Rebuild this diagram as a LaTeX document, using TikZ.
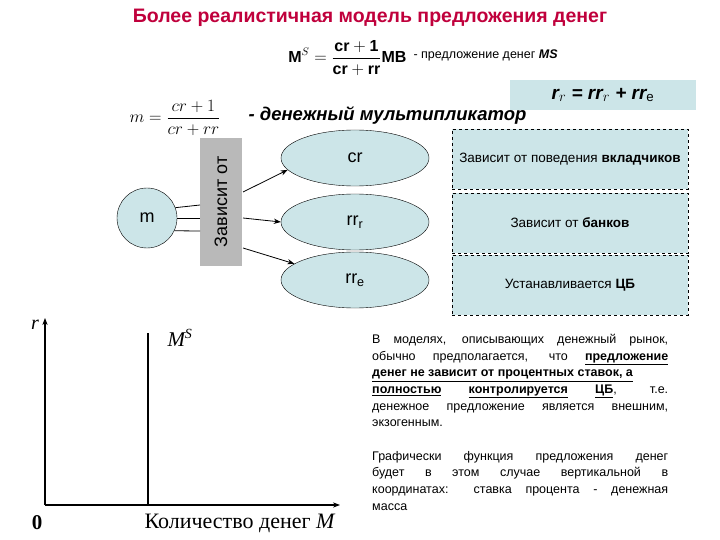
\documentclass[tikz,border=0pt]{standalone}
\usepackage{fontspec}
\setmainfont{Liberation Sans}
\newfontfamily\serifru{Liberation Serif}
\usetikzlibrary{shapes.geometric,arrows.meta}
\definecolor{lblue}{HTML}{CCE5E8}
\definecolor{titlec}{HTML}{C0003C}
\tikzset{
 ell/.style={ellipse,draw,fill=lblue,minimum width=148pt,minimum height=56pt,font=\fontsize{18}{20}\selectfont},
 dbox/.style={draw,dashed,thick,fill=lblue,minimum width=236pt,minimum height=60pt,font=\fontsize{13.5}{15}\selectfont},
 arr/.style={-{Stealth[length=7pt]},thick},
 ln/.style={thick},
 para/.style={anchor=north west,align=left,inner sep=0pt,font=\fontsize{12.5}{16.7}\selectfont}
}
\newcommand{\jl}[1]{\makebox[296pt][s]{#1}}
\begin{document}
\begin{tikzpicture}[x=1pt,y=-1pt]
\useasboundingbox (0,0) rectangle (720,540);
\fill[white] (0,0) rectangle (720,540);
\node (title) at (370,18) {\fontsize{19.5}{22}\selectfont\bfseries\color{titlec}Более реалистичная модель предложения денег};
\node[anchor=east] (ms) at (410,58) {\fontsize{16}{18}\selectfont$\displaystyle \mathbf{M}^{S}=\frac{\mathbf{cr+1}}{\mathbf{cr+rr}}\mathbf{MB}$};
\node[anchor=west] (mst) at (410,55) {\fontsize{12.5}{14}\selectfont - предложение денег \textbf{\itshape MS}};
\node[fill=lblue,minimum width=186pt,minimum height=30pt] (rr) at (603,95) {\fontsize{19}{21}\selectfont\bfseries\itshape r$_r$ = rr$_r$ + rr$_\mathrm{e}$};
\node (mf) at (175,118) {\fontsize{16}{18}\selectfont$\displaystyle m=\frac{cr+1}{cr+rr}$};
\node[anchor=west] (mult) at (245,115) {\fontsize{18.5}{20}\selectfont\bfseries\itshape - денежный мультипликатор};
\node[circle,draw,fill=lblue,minimum size=60pt,font=\fontsize{18}{20}\selectfont] (m) at (147,218) {m};
\node[fill=gray!55,minimum width=128pt,minimum height=42pt,rotate=90,font=\fontsize{18}{20}\selectfont] (bar) at (221,202) {Зависит от};
\node[ell] (cr) at (355,158) {cr};
\node[ell] (rrr) at (355,222) {rr$_\mathrm{r}$};
\node[ell] (rre) at (355,280) {rr$_\mathrm{e}$};
\node[dbox] (b1) at (570,159) {Зависит от поведения \textbf{вкладчиков}};
\node[dbox] (b2) at (570,223) {Зависит от \textbf{банков}};
\node[dbox] (b3) at (570,285) {Устанавливается \textbf{ЦБ}};
\coordinate (p1) at (200,205); \coordinate (p2) at (200,218); \coordinate (p3) at (200,231);
\coordinate (q1) at (243,192); \coordinate (q2) at (243,218); \coordinate (q3) at (243,248);
\draw[ln] (m.20) -- (p1);
\draw[ln] (m.east) -- (p2);
\draw[ln] (m.-25) -- (p3);
\draw[arr] (q1) -- (cr.190);
\draw[arr] (q2) -- (rrr.west);
\draw[arr] (q3) -- (rre.165);
% graph
\coordinate (o) at (45,505);
\coordinate (ytop) at (45,318);
\coordinate (xend) at (340,505);
\coordinate (mst0) at (148,505);
\coordinate (mst1) at (148,333);
\draw[arr,line width=1.2pt] (o) -- (ytop);
\draw[arr,line width=1.2pt] (o) -- (xend);
\draw[line width=1.2pt] (mst0) -- (mst1);
\node (rl) at (35,325) {\serifru\fontsize{20}{22}\selectfont\itshape r};
\node (msl) at (180,338) {\serifru\fontsize{21}{23}\selectfont\itshape M$^{\mbox{\fontsize{14}{14}\selectfont S}}$};
\node (zl) at (37,523) {\serifru\fontsize{21}{23}\selectfont\bfseries 0};
\node (ql) at (240,523) {\serifru\fontsize{22}{24}\selectfont Количество денег \textit{M}};
\node[para] (t1) at (372,334) {\jl{В моделях, описывающих денежный рынок,}\\
\jl{обычно предполагается, что \underline{\textbf{предложение}}}\\
\jl{\underline{\textbf{денег не зависит от процентных ставок, а}}}\\
\jl{\underline{\textbf{полностью}} \underline{\textbf{контролируется}} \underline{\textbf{ЦБ}}, т.е.}\\
\jl{денежное предложение является внешним,}\\
экзогенным.};
\node[para] (t2) at (372,451) {\jl{Графически функция предложения денег}\\
\jl{будет в этом случае вертикальной в}\\
\jl{координатах: ставка процента - денежная}\\
масса};
\end{tikzpicture}
\end{document}
